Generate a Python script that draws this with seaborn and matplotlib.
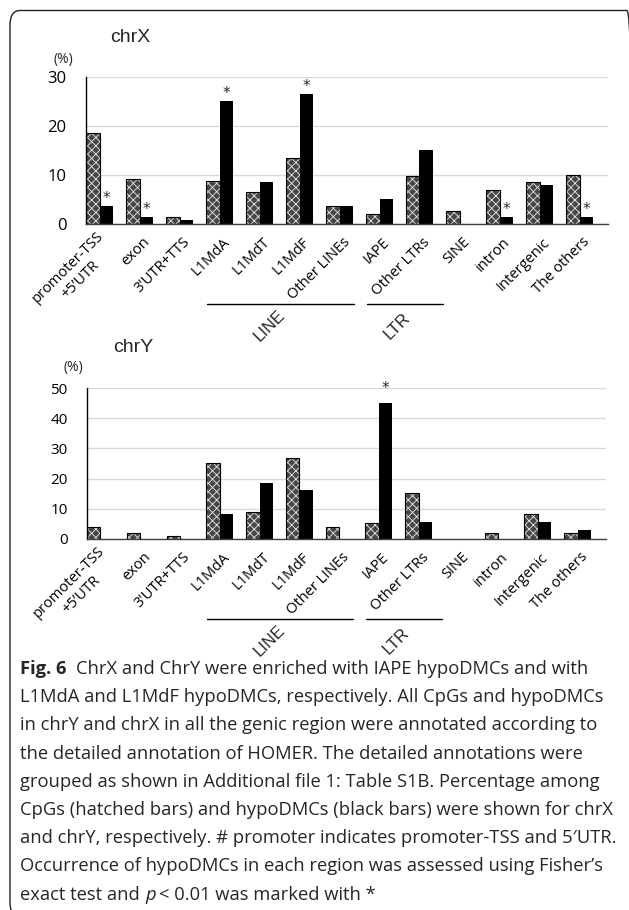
import numpy as np
import pandas as pd
import seaborn as sns
import matplotlib.pyplot as plt
from matplotlib.patches import Rectangle, FancyBboxPatch
from matplotlib.transforms import ScaledTranslation

# region categories (x axis)
regions = ["promoter-TSS\n+5\u2019UTR", "exon", "3'UTR+TTS", "L1MdA", "L1MdT", "L1MdF",
           "Other LINEs", "IAPE", "Other LTRs", "SINE", "intron", "Intergenic", "The others"]

# chrX percentages
cpg_x = [18.6, 9.1, 1.4, 8.8, 6.5, 13.4, 3.6, 2.0, 9.7, 2.6, 6.9, 8.6, 10.1]
dmc_x = [3.7, 1.5, 0.9, 25.2, 8.6, 26.5, 3.7, 5.1, 15.1, 0.0, 1.5, 8.0, 1.5]
sig_x = ["promoter-TSS\n+5\u2019UTR", "exon", "L1MdA", "L1MdF", "intron", "The others"]

# chrY percentages
cpg_y = [4.0, 1.9, 1.1, 25.2, 8.9, 26.8, 4.0, 5.4, 15.3, 0.0, 1.9, 8.3, 1.9]
dmc_y = [0.0, 0.0, 0.0, 8.4, 18.7, 16.2, 0.0, 45.0, 5.7, 0.0, 0.0, 5.7, 3.1]
sig_y = ["IAPE"]

# repeat-family brackets under the labels (start, end, label centre in category units)
groups = {"LINE": (2.68, 6.35, 4.26), "LTR": (6.68, 8.58, 7.44)}

caption = [
    "ChrX and ChrY were enriched with IAPE hypoDMCs and with",
    "L1MdA and L1MdF hypoDMCs, respectively. All CpGs and hypoDMCs",
    "in chrY and chrX in all the genic region were annotated according to",
    "the detailed annotation of HOMER. The detailed annotations were",
    "grouped as shown in Additional file 1: Table S1B. Percentage among",
    "CpGs (hatched bars) and hypoDMCs (black bars) were shown for chrX",
    "and chrY, respectively. # promoter indicates promoter-TSS and 5\u2032UTR.",
    "Occurrence of hypoDMCs in each region was assessed using Fisher\u2019s",
]

sns.set_theme(style="white")
plt.rcParams['font.family'] = ['Open Sans', 'DejaVu Sans']
plt.rcParams['hatch.linewidth'] = 0.6

W, H = 629, 910
fig = plt.figure(figsize=(W / 100, H / 100), dpi=100)


def fx(px):
    return px / W


def fy(py):
    return 1 - py / H


def panel(rect, cpg, dmc, sig, ymax, title, title_xy, pct_xy, ytick_fs, star_off):
    l, t, r, b = rect
    ax = fig.add_axes([fx(l), fy(b), fx(r) - fx(l), fy(t) - fy(b)])
    df = pd.DataFrame({"region": regions * 2,
                       "pct": cpg + dmc,
                       "set": ["CpGs"] * len(regions) + ["hypoDMCs"] * len(regions)})
    sns.barplot(data=df, x="region", y="pct", hue="set", order=regions,
                hue_order=["CpGs", "hypoDMCs"], palette=["#474747", "black"],
                width=0.675, errorbar=None, saturation=1, linewidth=0,
                legend=False, ax=ax)
    for p in ax.containers[0]:
        p.set_hatch("xxxx")
        p.set_edgecolor("#e8e8e8")
        p.set_linewidth(0)
        if p.get_height() > 0:
            ax.add_patch(Rectangle(p.get_xy(), p.get_width(), p.get_height(),
                                   fill=False, ec="black", lw=0.8, zorder=3))
    for name in sig:
        p = ax.containers[1][regions.index(name)]
        ax.annotate("*", (p.get_x() + p.get_width() / 2, p.get_height()),
                    xytext=(0, star_off), textcoords="offset points",
                    ha="center", va="bottom", fontsize=11, family="DejaVu Sans")

    n = len(regions)
    ax.set_xlim(-0.3375, n - 1 + 0.7125)
    ax.set_ylim(0, ymax)
    ax.set_yticks(np.arange(0, ymax + 1, 10))
    ax.yaxis.grid(True, color="#d9d9d9", lw=1)
    ax.set_axisbelow(True)
    for s in ["top", "right"]:
        ax.spines[s].set_visible(False)
    ax.spines["left"].set_color("black")
    ax.spines["left"].set_linewidth(1)
    ax.spines["bottom"].set_color("#404040")
    ax.spines["bottom"].set_linewidth(1)
    ax.set_xlabel("")
    ax.set_ylabel("")
    ax.tick_params(axis="y", length=0, pad=14, labelsize=ytick_fs, colors="black")
    ax.tick_params(axis="x", length=0, pad=10, labelsize=10.5, colors="black")
    ax.set_xticks(range(n))
    ax.set_xticklabels(regions, rotation=45, ha="right", va="center",
                       rotation_mode="anchor", multialignment="center")
    shift = ScaledTranslation(8 / 100, -2 / 100, fig.dpi_scale_trans)
    for lab in ax.get_xticklabels():
        lab.set_transform(lab.get_transform() + shift)

    # group brackets
    down = ScaledTranslation(0, -80 / 100, fig.dpi_scale_trans)
    down2 = ScaledTranslation(0, -102 / 100, fig.dpi_scale_trans)
    for name, (x0, x1, xc) in groups.items():
        ax.plot([x0, x1], [0, 0], color="black", lw=1, clip_on=False,
                transform=ax.get_xaxis_transform() + down)
        ax.text(xc, 0, name, rotation=45, ha="center", va="center",
                fontsize=12, family="Liberation Sans",
                transform=ax.get_xaxis_transform() + down2)

    fig.text(fx(title_xy[0]), fy(title_xy[1]), title, ha="center", va="center",
             fontsize=14, family="Liberation Sans")
    fig.text(fx(pct_xy[0]), fy(pct_xy[1]), "(%)", ha="center", va="center", fontsize=10)
    return ax


ax0 = panel((86, 77, 608, 224), cpg_x, dmc_x, sig_x, 30, "chrX", (130, 38), (63, 60), 12, 0)
panel((87, 388, 606, 539), cpg_y, dmc_y, sig_y, 50, "chrY", (133, 347), (73, 367), 11, 5)

# frame
fig.patches.append(FancyBboxPatch((fx(10), fy(917)), fx(637) - fx(10), fy(10.5) - fy(917),
                                  boxstyle="round,pad=0,rounding_size=0.016",
                                  transform=fig.transFigure, fill=False,
                                  ec="#222222", lw=1, figure=fig))

# caption
cap_fs = 13.2
y0, dy = 669, 28.2
t = fig.text(fx(20), fy(y0), "Fig. 6", fontsize=cap_fs, weight="bold", va="center")
ax0.annotate(caption[0], xy=(1, 0.5), xycoords=t, xytext=(7, 0),
             textcoords="offset points", va="center", fontsize=cap_fs,
             annotation_clip=False)
for k, line in enumerate(caption[1:], start=1):
    fig.text(fx(20), fy(y0 + k * dy), line, fontsize=cap_fs, va="center")
t1 = fig.text(fx(20), fy(y0 + 8 * dy), "exact test and", fontsize=cap_fs, va="center")
t2 = ax0.annotate("p", xy=(1, 0.5), xycoords=t1, xytext=(4, 0), textcoords="offset points",
                  va="center", fontsize=cap_fs, style="italic", annotation_clip=False)
ax0.annotate("< 0.01 was marked with *", xy=(1, 0.5), xycoords=t2, xytext=(2, 0),
             textcoords="offset points", va="center", fontsize=cap_fs,
             annotation_clip=False)

fig.savefig("out.png", dpi=100)
